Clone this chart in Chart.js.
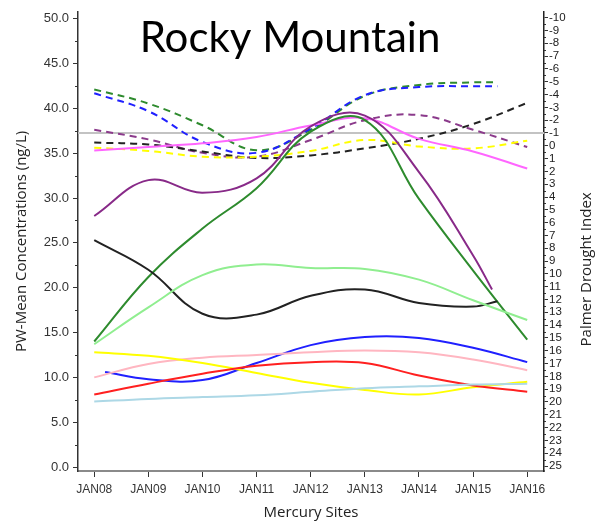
<!DOCTYPE html>
<html>
<head>
<meta charset="utf-8">
<script src="https://cdn.jsdelivr.net/npm/chart.js@4.4.0/dist/chart.umd.min.js"></script>
<style>
  html, body { margin: 0; padding: 0; background: #fff; }
</style>
</head>
<body>
<canvas id="myChart" width="595" height="528"></canvas>
<script>
// ---- data ----
const xLabels = ['JAN08', 'JAN09', 'JAN10', 'JAN11', 'JAN12', 'JAN13', 'JAN14', 'JAN15', 'JAN16'];
const years = [0, 1, 2, 3, 4, 5, 6, 7, 8];
const yearsShortA = [0, 1, 2, 3, 4, 5, 6, 7, 7.35];
const yearsShortB = [0, 1, 2, 3, 4, 5, 6, 7, 7.45];
const yearsLateStart = [0.2, 1, 2, 3, 4, 5, 6, 7, 8];

const leftTicks = [0, 5, 10, 15, 20, 25, 30, 35, 40, 45, 50];
const rightTicks = [-10, -9, -8, -7, -6, -5, -4, -3, -2, -1, 0, 1, 2, 3, 4, 5, 6, 7, 8, 9, 10,
  11, 12, 13, 14, 15, 16, 17, 18, 19, 20, 21, 22, 23, 24, 25];
const refLine = -1;

// PW-mean concentrations (ng/L), left axis
const hgGreen     = [14.0, 21.2, 26.6, 31.1, 37.4, 38.7, 29.9, 21.9, 14.2];
const hgPurple    = [28.0, 32.0, 30.6, 32.2, 38.0, 39.2, 32.9, 23.6, 19.8];
const hgBlack     = [25.3, 22.0, 17.1, 17.0, 19.1, 19.8, 18.3, 17.9, 18.5];
const hgLtGreen   = [13.7, 17.8, 21.4, 22.6, 22.2, 22.1, 20.9, 18.6, 16.4];
const hgBlue      = [10.6, 9.8, 9.7, 11.6, 13.6, 14.5, 14.4, 13.3, 11.7];
const hgPink      = [10.0, 11.5, 12.2, 12.5, 12.8, 13.0, 12.8, 12.0, 10.8];
const hgRed       = [8.1, 9.3, 10.4, 11.3, 11.7, 11.6, 10.2, 9.1, 8.4];
const hgYellow    = [12.8, 12.4, 11.6, 10.5, 9.4, 8.6, 8.1, 8.9, 9.5];
const hgLtBlue    = [7.3, 7.6, 7.8, 8.0, 8.4, 8.8, 9.0, 9.2, 9.3];
const hgViolet    = [35.3, 35.7, 36.1, 36.8, 38.1, 38.9, 36.6, 35.2, 33.3];

// Palmer drought index, right axis (dashed)
const pdiGreen    = [-4.4, -3.3, -1.6, 0.35, -1.25, -3.9, -4.75, -4.95, -4.95];
const pdiBlue     = [-4.1, -2.7, -0.3, 0.55, -1.35, -3.95, -4.58, -4.65, -4.65];
const pdiPurple   = [-1.25, -0.5, 0.55, 0.85, -0.45, -2.0, -2.4, -1.25, 0.1];
const pdiBlack    = [-0.25, -0.1, 0.45, 0.95, 0.75, 0.2, -0.55, -1.7, -3.35];
const pdiYellow   = [0.15, 0.4, 0.85, 0.85, 0.4, -0.45, 0.05, 0.2, -0.4];

const pts = (xs, ys) => xs.map((x, i) => ({x: x, y: ys[i]}));

const solid = (data, color) => ({
  data: data, borderColor: color, borderWidth: 2, pointRadius: 0,
  tension: 0.4, fill: false, yAxisID: 'y'
});
const dashed = (data, color) => ({
  data: data, borderColor: color, borderWidth: 2, pointRadius: 0,
  tension: 0.4, fill: false, yAxisID: 'yR', borderDash: [7, 5]
});

/*********************** extras: title, right title, ref line, minor ticks ***********************/
const extras = {
  id: 'extras',
  beforeDatasetsDraw(chart) {
    const {ctx, chartArea} = chart;
    const yp = Math.round(chart.scales.yR.getPixelForValue(refLine));
    ctx.save();
    ctx.strokeStyle = '#c3c3c3';
    ctx.lineWidth = 2;
    ctx.beginPath();
    ctx.moveTo(chartArea.left, yp);
    ctx.lineTo(chartArea.right, yp);
    ctx.stroke();
    ctx.restore();
  },
  afterDraw(chart) {
    const {ctx, chartArea} = chart;
    const yL = chart.scales.y, yR = chart.scales.yR;
    ctx.save();
    // minor ticks
    ctx.strokeStyle = '#333';
    ctx.lineWidth = 1;
    ctx.beginPath();
    leftTicks.slice(0, -1).forEach(v => {
      const p = Math.round(yL.getPixelForValue(v + 2.5)) + 0.5;
      ctx.moveTo(chartArea.left - 3, p);
      ctx.lineTo(chartArea.left, p);
    });
    rightTicks.slice(0, -1).forEach(v => {
      const p = Math.round(yR.getPixelForValue(v + 0.5)) + 0.5;
      ctx.moveTo(chartArea.right, p);
      ctx.lineTo(chartArea.right + 2, p);
    });
    ctx.stroke();

    // big title inside the plot
    ctx.fillStyle = '#000';
    ctx.font = '42px Lato';
    ctx.textAlign = 'center';
    ctx.textBaseline = 'middle';
    ctx.fillText('Rocky Mountain', 290, 38);

    // right axis title, reading bottom to top
    ctx.font = '15px "Open Sans"';
    ctx.fillStyle = '#222';
    ctx.translate(587, (chartArea.top + chartArea.bottom) / 2 + 28);
    ctx.rotate(-Math.PI / 2);
    ctx.fillText('Palmer Drought Index', 0, 0);
    ctx.restore();
  }
};

const tickFont = {family: 'Liberation Sans', size: 12};

const myChart = new Chart(document.getElementById('myChart').getContext('2d'), {
  type: 'line',
  data: {
    datasets: [
      solid(pts(years, hgLtBlue), '#add8e6'),
      solid(pts(years, hgRed), '#ff2020'),
      solid(pts(years, hgYellow), '#ffff00'),
      solid(pts(years, hgPink), '#ffb6c1'),
      solid(pts(yearsLateStart, hgBlue), '#2020ff'),
      solid(pts(years, hgLtGreen), '#90ee90'),
      solid(pts(yearsShortB, hgBlack), '#222222'),
      solid(pts(yearsShortA, hgPurple), '#882a88'),
      solid(pts(years, hgGreen), '#2e8b2e'),
      solid(pts(years, hgViolet), '#ff66ff'),
      dashed(pts(years, pdiYellow), '#ffff00'),
      dashed(pts(years, pdiBlack), '#222222'),
      dashed(pts(years, pdiPurple), '#8b3a8b'),
      dashed(pts(yearsShortB, pdiBlue), '#2020ff'),
      dashed(pts(yearsShortB, pdiGreen), '#2e8b2e')
    ]
  },
  options: {
    responsive: false,
    animation: false,
    layout: {padding: {top: 8, left: 0, right: 0, bottom: 0}},
    plugins: {
      legend: false,
      tooltip: {enabled: false}
    },
    scales: {
      x: {
        type: 'linear',
        min: -0.3,
        max: 8.31,
        afterBuildTicks: s => { s.ticks = years.map(v => ({value: v})); },
        afterFit: s => { s.height = 57; },
        ticks: {
          callback: v => xLabels[v],
          font: tickFont, color: '#333', padding: 5,
          maxRotation: 0, autoSkip: false
        },
        grid: {drawOnChartArea: false, tickLength: 6, color: '#333'},
        border: {color: '#8a8a8a', width: 2},
        title: {
          display: true, text: 'Mercury Sites', color: '#222',
          font: {family: 'Open Sans', size: 15},
          padding: {top: 0, bottom: 6}
        }
      },
      y: {
        position: 'left',
        min: -0.44,
        max: 50.77,
        afterBuildTicks: s => { s.ticks = leftTicks.map(v => ({value: v})); },
        afterFit: s => { s.width = 78; },
        ticks: {
          callback: v => v.toFixed(1),
          font: {family: 'Liberation Sans', size: 13}, color: '#333', padding: 4
        },
        grid: {drawOnChartArea: false, tickLength: 5, color: '#333'},
        border: {color: '#333', width: 1.5},
        title: {
          display: true, text: 'PW-Mean Concentrations (ng/L)', color: '#222',
          font: {family: 'Open Sans', size: 15},
          padding: {top: 13, bottom: 0}
        }
      },
      yR: {
        position: 'right',
        reverse: true,
        min: -10.46,
        max: 25.39,
        afterBuildTicks: s => { s.ticks = rightTicks.map(v => ({value: v})); },
        afterFit: s => { s.width = 51; },
        ticks: {
          callback: v => String(v),
          font: {family: 'Liberation Sans', size: 11.5}, color: '#222',
          padding: 1, autoSkip: false
        },
        grid: {drawOnChartArea: false, tickLength: 4, color: '#333'},
        border: {color: '#222', width: 1.5}
      }
    }
  },
  plugins: [extras]
});
</script>
</body>
</html>
